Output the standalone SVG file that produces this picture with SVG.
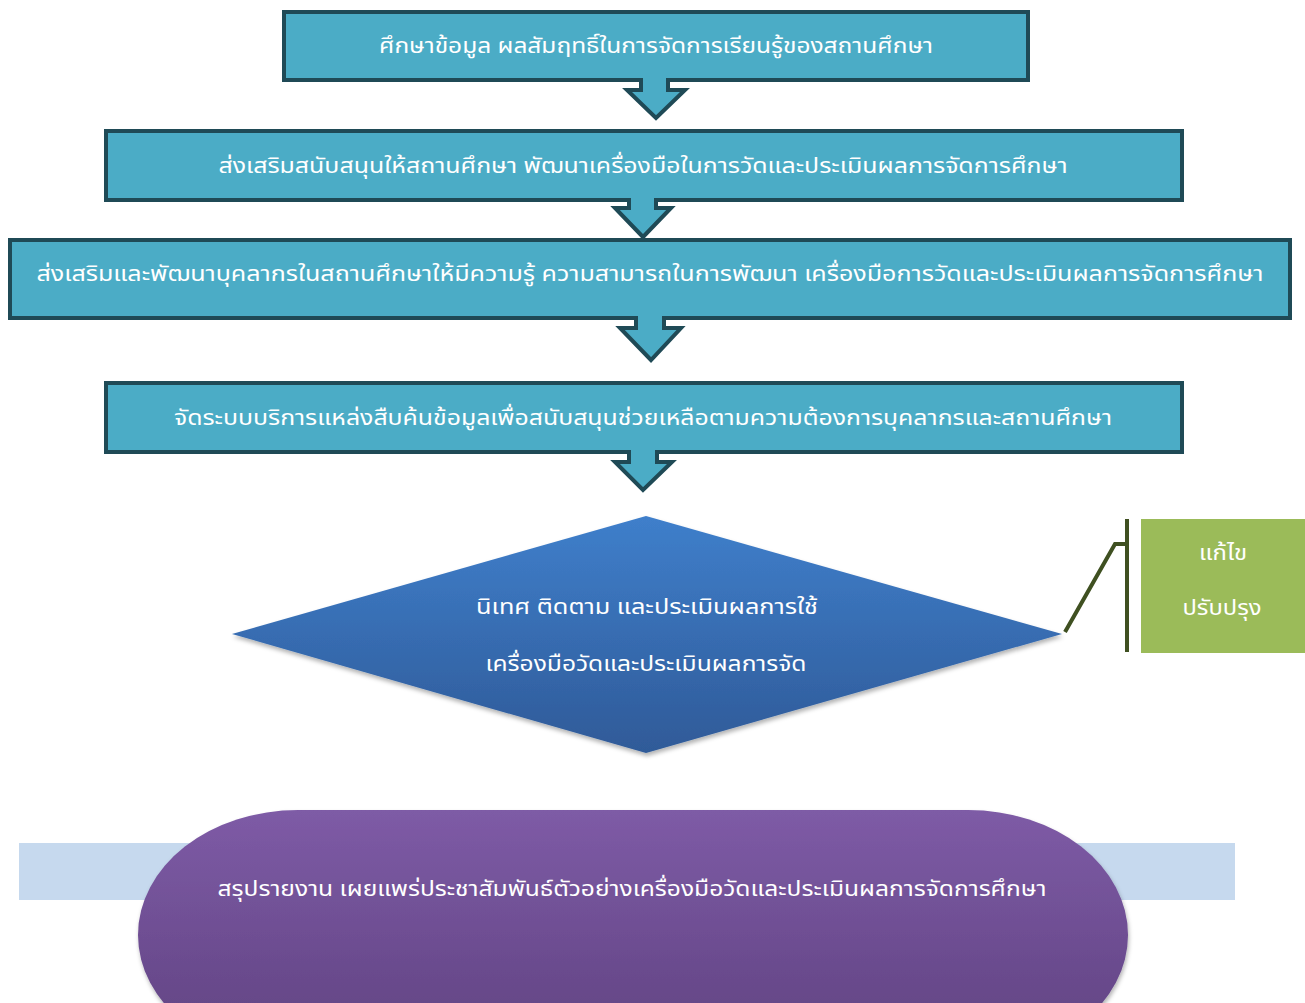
<svg xmlns="http://www.w3.org/2000/svg" width="1305" height="1003" viewBox="0 0 1305 1003">
<defs>
<linearGradient id="gDia" x1="0" y1="0" x2="0" y2="1">
<stop offset="0" stop-color="#3F7FCB"/>
<stop offset="1" stop-color="#2F5A98"/>
</linearGradient>
<linearGradient id="gPur" x1="0" y1="0" x2="0" y2="1">
<stop offset="0" stop-color="#7E5BA6"/>
<stop offset="1" stop-color="#5F4280"/>
</linearGradient>
<filter id="sh" x="-5%" y="-5%" width="110%" height="120%">
<feDropShadow dx="1" dy="3" stdDeviation="2" flood-color="#000" flood-opacity="0.3"/>
</filter>
</defs>
<style>
.box{fill:#4BACC6;stroke:#1F4A56;stroke-width:4}
.arr{fill:#4BACC6;stroke:#1F4A56;stroke-width:4;stroke-linejoin:miter}
.t{font-family:"Noto Sans Thai","Noto Sans","DejaVu Sans",sans-serif;font-size:21px;fill:#FFFFFF;text-anchor:middle;dominant-baseline:central}
.link{fill:none;stroke:#3F5021;stroke-width:4}
</style>
<rect width="1305" height="1003" fill="#FFFFFF"/>
<g id="node1">
<rect class="box" x="284" y="12" width="744" height="68"/>
<text class="t" x="656" y="46" textLength="554" lengthAdjust="spacingAndGlyphs">ศึกษาข้อมูล ผลสัมฤทธิ์ในการจัดการเรียนรู้ของสถานศึกษา</text>
</g>
<g id="node2">
<rect class="box" x="106" y="131" width="1076" height="69"/>
<text class="t" x="643" y="166" textLength="849" lengthAdjust="spacingAndGlyphs">ส่งเสริมสนับสนุนให้สถานศึกษา พัฒนาเครื่องมือในการวัดและประเมินผลการจัดการศึกษา</text>
</g>
<g id="node3">
<rect class="box" x="10" y="240" width="1280" height="78"/>
<text class="t" x="650" y="274" textLength="1227" lengthAdjust="spacingAndGlyphs">ส่งเสริมและพัฒนาบุคลากรในสถานศึกษาให้มีความรู้ ความสามารถในการพัฒนา เครื่องมือการวัดและประเมินผลการจัดการศึกษา</text>
</g>
<g id="node4">
<rect class="box" x="106" y="383" width="1076" height="69"/>
<text class="t" x="643" y="418" textLength="938" lengthAdjust="spacingAndGlyphs">จัดระบบบริการแหล่งสืบค้นข้อมูลเพื่อสนับสนุนช่วยเหลือตามความต้องการบุคลากรและสถานศึกษา</text>
</g>
<g id="connectors">
<path class="arr" d="M641,78 L641,90 L627,90 L656,118 L685,90 L668,90 L668,78"/>
<path class="arr" d="M629,198 L629,208 L615,208 L643,237 L671,208 L656,208 L656,198"/>
<path class="arr" d="M636,316 L636,328 L620,328 L651,360 L681,328 L664,328 L664,316"/>
<path class="arr" d="M629,450 L629,462 L615,462 L643,490 L672,462 L657,462 L657,450"/>
<path class="link" d="M1065,632 L1115,544 L1127,544"/>
<path class="link" d="M1127,519 L1127,652"/>
</g>
<g id="node5">
<polygon points="646,516 1062,634 646,753 232,634" fill="url(#gDia)" filter="url(#sh)"/>
<text class="t" x="647" y="607" textLength="342" lengthAdjust="spacingAndGlyphs">นิเทศ ติดตาม และประเมินผลการใช้</text>
<text class="t" x="646" y="664" textLength="321" lengthAdjust="spacingAndGlyphs">เครื่องมือวัดและประเมินผลการจัด</text>
</g>
<g id="node6">
<rect x="1141" y="519" width="164" height="134" fill="#9BBB59"/>
<text class="t" x="1223" y="553" textLength="48" lengthAdjust="spacingAndGlyphs">แก้ไข</text>
<text class="t" x="1222" y="608" textLength="79" lengthAdjust="spacingAndGlyphs">ปรับปรุง</text>
</g>
<g id="node7">
<rect x="19" y="843" width="1216" height="57" fill="#C6D9EE"/>
<rect x="138" y="810" width="990" height="250" rx="160" ry="125" fill="url(#gPur)" filter="url(#sh)"/>
<text class="t" x="632" y="889" textLength="829" lengthAdjust="spacingAndGlyphs">สรุปรายงาน เผยแพร่ประชาสัมพันธ์ตัวอย่างเครื่องมือวัดและประเมินผลการจัดการศึกษา</text>
</g>
</svg>
